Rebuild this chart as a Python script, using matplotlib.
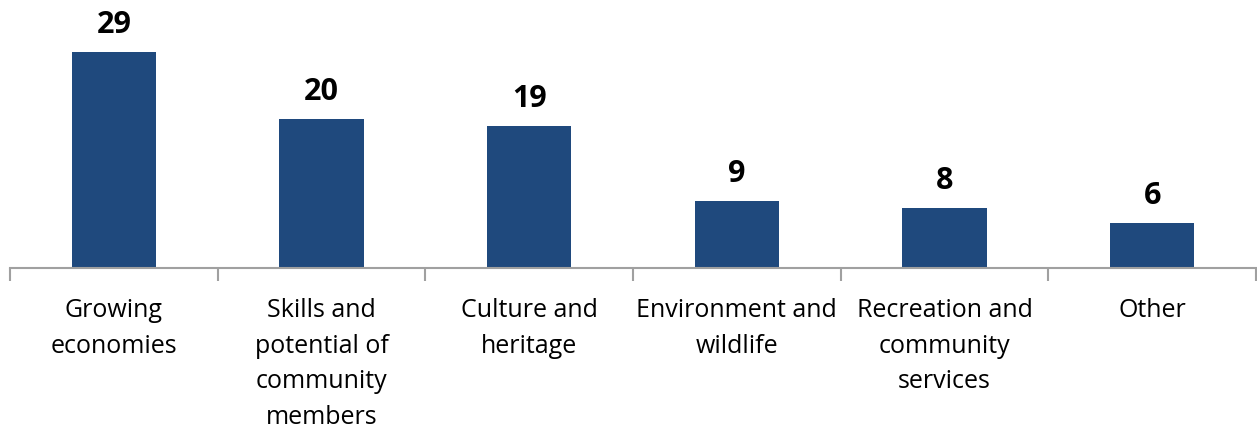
import matplotlib
matplotlib.use("Agg")
import matplotlib.pyplot as plt
import numpy as np

# ── data ──────────────────────────────────────────────────────────
categories = [
    "Growing\neconomies",
    "Skills and\npotential of\ncommunity\nmembers",
    "Culture and\nheritage",
    "Environment and\nwildlife",
    "Recreation and\ncommunity\nservices",
    "Other",
]
values = [29, 20, 19, 9, 8, 6]

BAR_COLOR = "#1F497D"
AXIS_COLOR = "#A0A0A0"

plt.rcParams["font.family"] = ["Open Sans", "DejaVu Sans"]

fig = plt.figure(figsize=(12.57, 4.27), dpi=100)
# axes placed in pixel terms: baseline at y=269px, spanning x 10..1256
W, H = 1257, 427
PX_PER_UNIT = 7.45
ax = fig.add_axes([10 / W, (H - 269) / H, 1246 / W, 269 / H])

x = np.arange(len(values))
ax.bar(x, values, width=0.405, color=BAR_COLOR)

for xi, v in zip(x, values):
    ax.text(xi, v + 20 / PX_PER_UNIT, str(v), ha="center", va="baseline",
            fontsize=22, fontweight="bold", color="black")

ax.set_xlim(-0.5, len(values) - 0.5)
ax.set_ylim(0, 269 / PX_PER_UNIT)

for side in ("top", "right", "left"):
    ax.spines[side].set_visible(False)
ax.spines["bottom"].set_color(AXIS_COLOR)
ax.spines["bottom"].set_linewidth(1.5)
ax.set_yticks([])

ax.set_xticks(x)
ax.set_xticklabels(categories, fontsize=18, linespacing=1.55, va="top")
ax.tick_params(axis="x", which="major", length=0, pad=21)
ax.set_xticks(np.arange(len(values) + 1) - 0.5, minor=True)
ax.tick_params(axis="x", which="minor", length=9, width=1.5,
               color=AXIS_COLOR, direction="out")

fig.savefig("out.png", dpi=100)
plt.close(fig)
